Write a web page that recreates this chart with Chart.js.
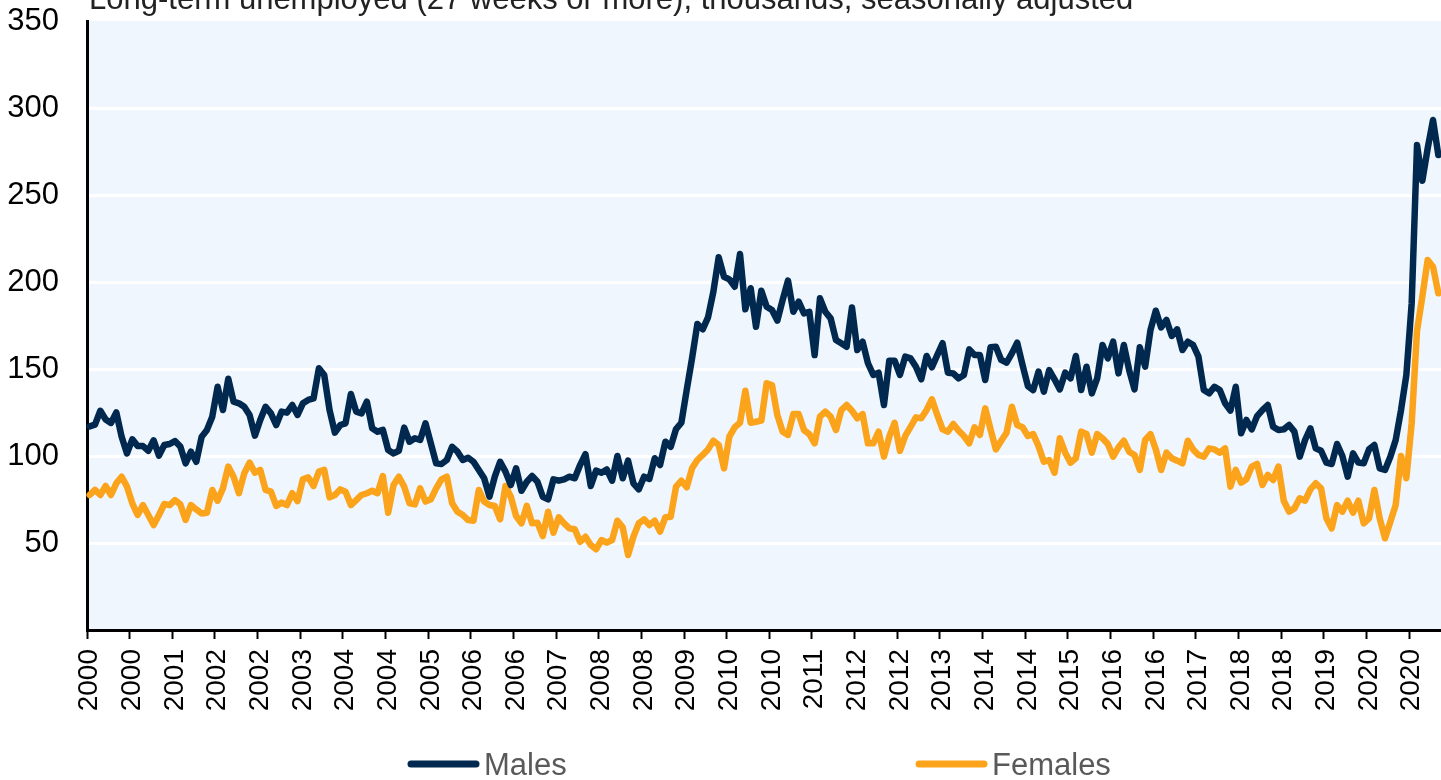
<!DOCTYPE html>
<html>
<head>
<meta charset="utf-8">
<title>Long-term unemployed</title>
<script src="https://cdn.jsdelivr.net/npm/chart.js@4.4.1/dist/chart.umd.min.js"></script>
<style>
  html, body { margin: 0; padding: 0; background: #fff; overflow: hidden; }
  #wrap { position: relative; width: 1441px; height: 780px; }
</style>
</head>
<body>
<div id="wrap"><canvas id="ltuChart"></canvas></div>
<script>
// Long-term unemployed (27 weeks or more), thousands, monthly from Jan 2000
const chartTitle = "Long-term unemployed (27 weeks or more), thousands, seasonally adjusted";

const males = [
  117, 118, 126, 121, 119, 125, 111, 101.5, 109.6, 105.7, 105.7, 103,
  109, 100.2, 106.3, 106.9, 108.6, 105.4, 95.8, 102.5, 96.7, 111, 115, 122.6,
  139.8, 126.4, 144.4, 131.2, 130.3, 128.3, 123.6, 111.7, 120.7, 128.3, 124.5, 117.8,
  125.5, 124.9, 129.3, 123.6, 130.3, 132.2, 133.1, 150.4, 146.6, 126.4, 113.4, 117.8,
  118.8, 135.6, 125.5, 124.5, 131.2, 115.9, 114, 115, 103.4, 101.5, 103, 116.3,
  108.2, 110.2, 109.2, 118.8, 107.3, 95.8,
  95.4, 97.7, 105.3, 102.5, 97.7, 99, 96.7, 92, 87.2, 76.6, 88.1, 96.7,
  91, 83.3, 92.9, 80, 85.2, 88.5, 85.2, 76.6, 75.1, 86.6, 85.8, 86.6,
  88.1, 87.2, 94.8, 101.1, 82.8, 91.6, 90.4, 92.3, 85.8, 100, 87.2, 97.3,
  84.3, 80.8, 88.1, 86.8, 98.7, 94.8, 108.2, 105.3, 115.5, 119.1, 137.9, 156.1,
  175.9, 172.8, 179.7, 194.4, 214.2, 203, 201.5, 197.3, 216.1, 184.3, 196.4, 174.3,
  195, 185.8, 183.9, 177.8,
  189.7, 200.8, 182.9, 188.7, 182, 182.9, 158, 190.6, 182.9, 179.1, 166.7, 164.8,
  162.8, 185.4, 160.9, 165.7, 153.3, 146.6, 147.9, 129.3, 154.8, 154.8, 146.6, 157.1,
  156.1, 151.3, 144.1, 157.5, 151, 158, 164.8, 147.9, 147.5, 144.6, 146.6, 161.3,
  158, 158, 143.7, 162.5, 162.8, 155.2, 153.6, 159, 165.1, 152.3, 140.2, 137.9,
  148.5, 137, 149.4, 144.1, 138.3, 147.9, 144.6, 157.5, 137.9, 151.3, 136, 144.6,
  163.8, 156.1, 165.7, 147.5,
  163.8, 149.4, 138.3, 162.5, 151.3, 172.4, 183.5, 173.9, 178.2, 169, 172.8, 160.9,
  165.7, 163.8, 157.1, 137.9, 136, 139.8, 137.9, 130.3, 126.1, 139.8, 113.1, 120.7,
  115.3, 122.9, 126.4, 129.3, 116.8, 114.9, 115.3, 117.8, 114, 99.6, 109.2, 115.9,
  104.4, 103, 96.2, 95.4, 106.9, 100, 88.1, 101.5, 96.2, 95.8, 103.8, 106.3,
  92.9, 92, 99.6, 109.2, 126.4, 146.6, 187.8, 278.7, 258.2, 276.8, 293.1, 273
];

const females = [
  77.6, 80.5, 77.6, 82.8, 77.6, 84.3, 88.1, 82.4, 72.8, 66.1, 71.8, 66.1,
  60.3, 66.1, 72.4, 71.8, 74.7, 72.2, 63.2, 71.8, 69.3, 67, 67.4, 80.5,
  74.3, 81.4, 93.9, 88.1, 78.6, 90.1, 96.2, 90.4, 92, 80.5, 79.5, 71.3,
  73.2, 71.8, 78.6, 74.1, 86.6, 87.7, 82.8, 91, 92, 76.2, 77.6, 80.8,
  79.5, 71.8, 74.7, 77.6, 78.6, 80, 78.6, 88.5, 67.4, 83.3, 88.1, 82.4,
  72.8, 72.2, 81.4, 73.8, 75.1, 81.4,
  86.6, 88.1, 72.8, 68, 66.1, 63.2, 62.8, 80.5, 73.8, 71.8, 71.3, 63.6,
  82.8, 76.6, 65.5, 61.3, 71.3, 61.3, 61.7, 54, 68, 55.9, 64.8, 61.3,
  58.4, 57.9, 50.7, 53.6, 48.9, 46.4, 51.7, 50.2, 51.7, 62.8, 59, 43.1,
  53.6, 61.3, 63.6, 60.3, 62.8, 56.5, 64.8, 65.1, 82.4, 85.8, 82, 92.9,
  97.7, 100.6, 103.8, 108.8, 106.3, 92.9, 111.1, 116.5, 119.1, 137.5, 119.1, 119.7,
  120.3, 141.8, 140.8, 123.5,
  114, 112.1, 124.1, 124.1, 114.9, 112.6, 107.3, 122.6, 125.5, 122.6, 114.9, 126.4,
  129.3, 126, 121.7, 124.1, 107.3, 107.3, 114, 99.6, 111.1, 119.1, 103, 111.5,
  116.8, 122.2, 121.7, 126.4, 132.6, 123.6, 115.3, 114, 118.4, 114.6, 111.5, 107.3,
  116.5, 112.1, 127.4, 115.3, 103.8, 108.8, 113.4, 128.3, 117.8, 116.5, 111.5, 112.6,
  105.7, 96.7, 97.7, 90.4, 110.2, 101.9, 96.2, 98.7, 114, 112.6, 101.9, 112.6,
  110.2, 106.9, 99.6, 105,
  108.8, 102.5, 100.6, 92, 109.2, 112.6, 103.8, 92, 101.9, 98.7, 97.3, 95.8,
  108.8, 103.8, 100.6, 99.6, 104.4, 103.8, 101.9, 104.4, 82.4, 92, 84.7, 86.6,
  93.9, 95.4, 83.3, 89.1, 86.2, 93.9, 74.3, 68, 69.9, 75.7, 74.3, 80.8,
  84.3, 81.4, 64.2, 58.4, 71.8, 68, 74.3, 67.4, 74.3, 61.3, 64.2, 80.5,
  64.2, 52.7, 62.2, 71.8, 100, 87.2, 118.8, 172, 191.6, 212.6, 208.8, 193.5
];

// one category per month, Jan 2000 onwards
const startYear = 2000;
const months = males.map((_, i) => (startYear + Math.floor(i / 12)) + "-" + String(i % 12 + 1).padStart(2, "0"));

// axis shows a label every 8 months
const tickEvery = 8;
const tickLabels = [
  "2000", "2000", "2001", "2002", "2002", "2003", "2004", "2004",
  "2005", "2006", "2006", "2007", "2008", "2008", "2009", "2010",
  "2010", "2011", "2012", "2012", "2013", "2014", "2014", "2015",
  "2016", "2016", "2017", "2018", "2018", "2019", "2020", "2020"
];
const yTicks = [50, 100, 150, 200, 250, 300, 350];

const plotBg = {
  id: "plotBg",
  beforeDraw(chart) {
    const { ctx, chartArea: a } = chart;
    ctx.save();
    ctx.fillStyle = "#eff6fd";
    ctx.fillRect(a.left, a.top, a.right - a.left, a.bottom - a.top);
    ctx.restore();
  }
};

const topTitle = {
  id: "topTitle",
  afterDraw(chart) {
    const ctx = chart.ctx;
    ctx.save();
    ctx.font = "31px 'Liberation Sans', Arial, sans-serif";
    ctx.fillStyle = "#222";
    ctx.textBaseline = "alphabetic";
    ctx.fillText(chartTitle, 89, 9);
    ctx.restore();
  }
};

const bottomLegend = {
  id: "bottomLegend",
  afterDraw(chart) {
    const ctx = chart.ctx;
    const starts = [408, 916];
    ctx.save();
    ctx.font = "31px 'Liberation Sans', Arial, sans-serif";
    ctx.textBaseline = "alphabetic";
    chart.data.datasets.forEach((ds, i) => {
      const x = starts[i];
      ctx.strokeStyle = ds.borderColor;
      ctx.lineWidth = 7;
      ctx.lineCap = "round";
      ctx.beginPath();
      ctx.moveTo(x + 3, 764);
      ctx.lineTo(x + 68, 764);
      ctx.stroke();
      ctx.fillStyle = "#595959";
      ctx.fillText(ds.label, x + 76, 775);
    });
    ctx.restore();
  }
};

new Chart(document.getElementById("ltuChart"), {
  type: "line",
  data: {
    labels: months,
    datasets: [{
      label: "Males",
      data: males,
      borderColor: "#01294f",
      borderWidth: 6.5,
      borderJoinStyle: "round",
      borderCapStyle: "round",
      pointRadius: 0,
      tension: 0,
      fill: false
    }, {
      label: "Females",
      data: females,
      borderColor: "#fba31a",
      borderWidth: 6.5,
      borderJoinStyle: "round",
      borderCapStyle: "round",
      pointRadius: 0,
      tension: 0,
      fill: false
    }]
  },
  options: {
    responsive: true,
    maintainAspectRatio: false,
    animation: false,
    devicePixelRatio: 1,
    layout: { padding: { top: 21, right: 0, bottom: 52, left: 0 } },
    plugins: {
      legend: { display: false },
      title: { display: false },
      tooltip: { enabled: false }
    },
    scales: {
      x: {
        offset: true,
        grid: {
          offset: true,
          drawOnChartArea: false,
          tickLength: 9,
          tickWidth: 2,
          tickColor: ctx => ctx.index % tickEvery === 0 ? "#000" : "rgba(0,0,0,0)"
        },
        border: { color: "#000", width: 3 },
        ticks: {
          autoSkip: false,
          minRotation: 90,
          maxRotation: 90,
          padding: 10,
          color: "#000",
          font: { family: "'Liberation Sans', Arial, sans-serif", size: 28 },
          callback: (v, i) => i % tickEvery === 0 ? tickLabels[i / tickEvery] : ""
        },
        afterFit(scale) {
          scale.height = 98;
          scale.paddingLeft = 0;
          scale.paddingRight = 0;
        }
      },
      y: {
        min: 0,
        max: 350,
        afterBuildTicks(scale) {
          scale.ticks = [0].concat(yTicks).map(v => ({ value: v }));
        },
        grid: {
          drawTicks: false,
          lineWidth: 3,
          color: ctx => (ctx.tick && (ctx.tick.value === 0 || ctx.tick.value === 350)) ? "rgba(0,0,0,0)" : "#ffffff"
        },
        border: { color: "#000", width: 3 },
        ticks: {
          padding: 28,
          color: "#000",
          font: { family: "'Liberation Sans', Arial, sans-serif", size: 31 },
          callback: v => v === 0 ? "" : v
        },
        afterFit(scale) {
          scale.width = 87;
          scale.paddingTop = 0;
          scale.paddingBottom = 0;
        }
      }
    }
  },
  plugins: [plotBg, topTitle, bottomLegend]
});
</script>
</body>
</html>
